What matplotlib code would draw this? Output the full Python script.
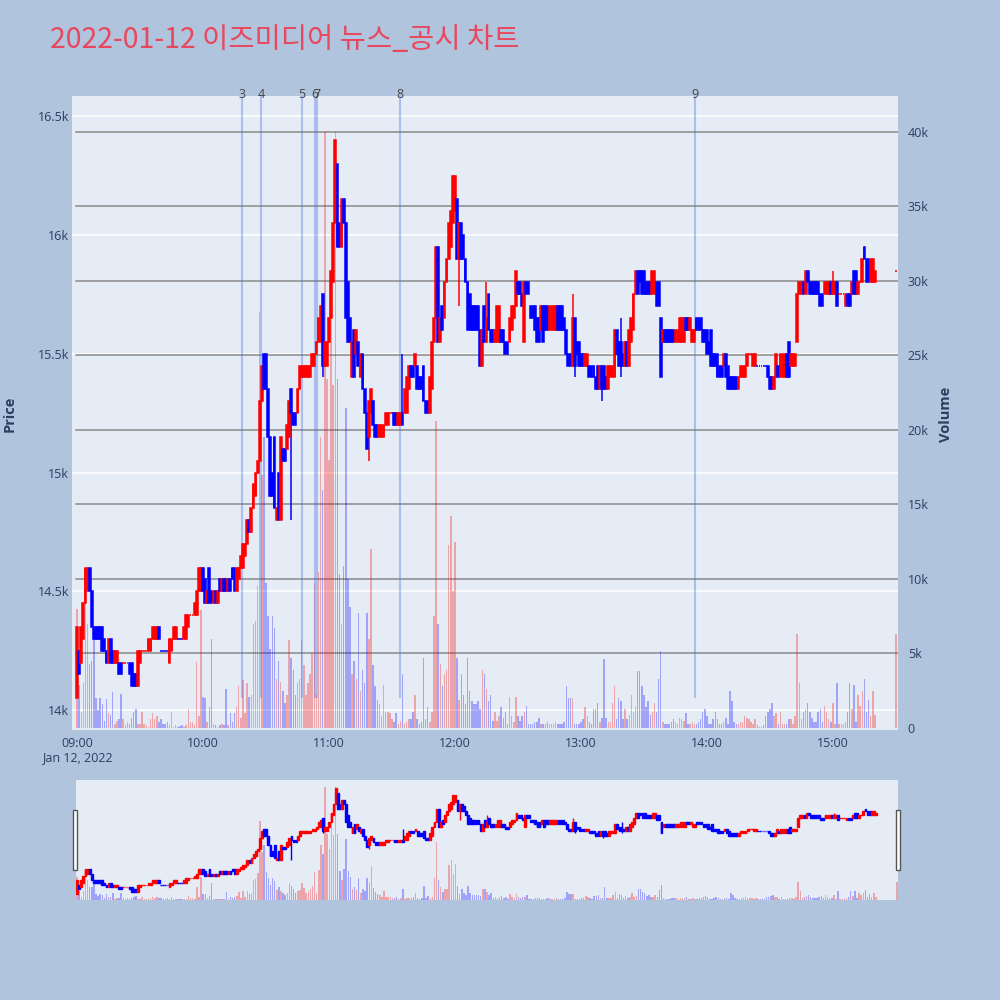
import matplotlib
matplotlib.use('Agg')
import matplotlib.pyplot as plt
from matplotlib.patches import Rectangle

plt.rcParams['font.family'] = ['Open Sans', 'Noto Sans CJK KR', 'DejaVu Sans']

# ---------------- data (1-minute candles, 09:00 = minute 0) ----------------
opens = [
    14050, 14250, 14200, 14300, 14450, 14500, 14600, 14500, 14350, 14350,
    14350, 14350, 14350, 14300, 14250, 14200, 14300, 14250, 14200, 14200,
    14200, 14200, 14200, 14200, 14200, 14200, 14200, 14150, 14150, 14100,
    14200, 14250, 14250, 14250, 14250, 14250, 14300, 14300, 14300, 14350,
    14250, 14250, 14250, 14250, 14200, 14250, 14300, 14300, 14300, 14300,
    14300, 14300, 14300, 14350, 14400, 14400, 14400, 14400, 14500, 14500,
    14600, 14550, 14450, 14600, 14500, 14450, 14500, 14450, 14550, 14500,
    14550, 14550, 14500, 14550, 14600, 14600, 14500, 14550, 14600, 14600,
    14650, 14700, 14800, 14750, 14850, 14900, 15000, 15050, 15300, 15500,
    15500, 15350, 15150, 15000, 15150, 14800, 15000, 14800, 15100, 15100,
    15100, 15150, 15350, 15250, 15250, 15250, 15350, 15400, 15400, 15400,
    15400, 15400, 15450, 15450, 15500, 15550, 15550, 15750, 15450, 15450,
    15550, 15650, 15800, 16050, 16300, 16050, 15950, 16150, 16050, 15800,
    15650, 15400, 15600, 15500, 15550, 15400, 15500, 15350, 15250, 15150,
    15250, 15300, 15200, 15200, 15150, 15150, 15150, 15200, 15200, 15250,
    15250, 15250, 15250, 15200, 15200, 15250, 15250, 15250, 15350, 15450,
    15450, 15450, 15450, 15400, 15400, 15450, 15300, 15300, 15250, 15350,
    15550, 15650, 15950, 15550, 15700, 15650, 15800, 15900, 15950, 16050,
    16100, 16150, 15900, 16050, 16000, 15900, 15800, 15750, 15700, 15700,
    15700, 15700, 15600, 15450, 15700, 15550, 15750, 15600, 15600, 15550,
    15550, 15550, 15600, 15600, 15550, 15550, 15550, 15600, 15650, 15700,
    15800, 15800, 15750, 15550, 15800, 15800, 15700, 15700, 15700, 15650,
    15650, 15600, 15700, 15700, 15700, 15600, 15600, 15600, 15600, 15700,
    15700, 15700, 15650, 15600, 15500, 15500, 15450, 15650, 15550, 15550,
    15500, 15500, 15450, 15450, 15450, 15450, 15450, 15400, 15450, 15350,
    15450, 15450, 15400, 15350, 15400, 15400, 15400, 15600, 15550, 15550,
    15500, 15450, 15550, 15450, 15550, 15600, 15750, 15850, 15850, 15850,
    15850, 15800, 15800, 15800, 15750, 15750, 15800, 15800, 15650, 15550,
    15600, 15600, 15600, 15600, 15600, 15550, 15550, 15550, 15550, 15550,
    15650, 15650, 15600, 15550, 15550, 15650, 15650, 15650, 15600, 15600,
    15600, 15550, 15600, 15500, 15500, 15500, 15450, 15450, 15450, 15500,
    15450, 15400, 15400, 15400, 15400, 15350, 15400, 15400, 15400, 15450,
    15500, 15500, 15450, 15450, 15450, 15450, 15450, 15450, 15450, 15450,
    15400, 15400, 15350, 15400, 15450, 15400, 15400, 15400, 15500, 15550,
    15450, 15450, 15450, 15550, 15750, 15750, 15800, 15750, 15850, 15800,
    15800, 15800, 15800, 15800, 15750, 15750, 15750, 15750, 15750, 15800,
    15750, 15750, 15800, 15750, 15750, 15750, 15700, 15750, 15750, 15750,
    15850, 15850, 15750, 15800, 15800, 15950, 15900, 15900, 15800, 15800,
    15800, 15850,
]
closes = [
    14350, 14150, 14350, 14450, 14600, 14600, 14500, 14350, 14300, 14300,
    14300, 14300, 14250, 14250, 14200, 14300, 14200, 14200, 14250, 14250,
    14150, 14150, 14200, 14200, 14200, 14150, 14100, 14100, 14100, 14250,
    14250, 14250, 14250, 14250, 14300, 14300, 14350, 14350, 14350, 14300,
    14250, 14250, 14250, 14250, 14300, 14300, 14350, 14350, 14300, 14300,
    14300, 14350, 14400, 14400, 14400, 14400, 14450, 14500, 14600, 14600,
    14500, 14450, 14500, 14450, 14450, 14500, 14450, 14500, 14500, 14550,
    14500, 14500, 14550, 14500, 14550, 14500, 14600, 14600, 14650, 14700,
    14700, 14800, 14750, 14850, 14950, 15000, 15050, 15300, 15450, 15350,
    15350, 15150, 14900, 14900, 14850, 14850, 14800, 15150, 15050, 15050,
    15200, 15300, 15250, 15200, 15200, 15350, 15450, 15450, 15450, 15450,
    15450, 15450, 15500, 15500, 15550, 15650, 15700, 15450, 15550, 15550,
    15650, 15850, 16050, 16400, 15950, 15950, 16150, 16050, 15650, 15550,
    15550, 15550, 15400, 15600, 15450, 15500, 15350, 15250, 15100, 15300,
    15350, 15200, 15150, 15150, 15200, 15200, 15200, 15250, 15250, 15250,
    15250, 15200, 15200, 15250, 15250, 15200, 15350, 15400, 15450, 15400,
    15400, 15500, 15350, 15350, 15350, 15300, 15250, 15250, 15400, 15550,
    15650, 15950, 15550, 15650, 15600, 15800, 15900, 16050, 16100, 16250,
    16250, 15900, 16050, 15900, 15900, 15800, 15600, 15600, 15600, 15600,
    15600, 15600, 15450, 15600, 15550, 15650, 15600, 15550, 15550, 15600,
    15700, 15700, 15550, 15550, 15500, 15500, 15650, 15700, 15700, 15850,
    15750, 15750, 15700, 15800, 15750, 15750, 15650, 15650, 15600, 15550,
    15550, 15700, 15550, 15600, 15600, 15700, 15700, 15700, 15700, 15600,
    15600, 15600, 15600, 15500, 15450, 15450, 15650, 15450, 15500, 15450,
    15450, 15450, 15500, 15500, 15400, 15400, 15400, 15350, 15350, 15450,
    15350, 15350, 15350, 15450, 15450, 15450, 15600, 15500, 15450, 15450,
    15450, 15550, 15450, 15600, 15650, 15750, 15850, 15750, 15800, 15750,
    15750, 15750, 15750, 15750, 15850, 15850, 15700, 15700, 15400, 15600,
    15550, 15550, 15550, 15550, 15550, 15600, 15600, 15650, 15650, 15650,
    15600, 15600, 15650, 15600, 15600, 15600, 15600, 15600, 15550, 15550,
    15500, 15500, 15450, 15450, 15450, 15400, 15400, 15400, 15500, 15400,
    15350, 15350, 15350, 15350, 15350, 15400, 15450, 15450, 15450, 15500,
    15500, 15500, 15500, 15500, 15450, 15450, 15450, 15450, 15450, 15400,
    15350, 15350, 15400, 15500, 15400, 15500, 15500, 15500, 15400, 15400,
    15500, 15500, 15500, 15750, 15800, 15800, 15750, 15850, 15800, 15750,
    15750, 15750, 15750, 15750, 15700, 15700, 15800, 15800, 15800, 15750,
    15800, 15800, 15700, 15750, 15750, 15750, 15750, 15700, 15700, 15800,
    15750, 15750, 15800, 15800, 15900, 15900, 15800, 15800, 15900, 15900,
    15850, 15850,
]
volumes = [
    8000, 2900, 1100, 3000, 8500, 7000, 4300, 4500, 6000, 2000,
    1200, 2000, 1600, 500, 1950, 1000, 900, 2400, 300, 500,
    600, 2300, 600, 200, 400, 300, 700, 1100, 1300, 300,
    300, 1100, 300, 200, 100, 600, 1000, 600, 800, 400,
    600, 300, 300, 400, 200, 1100, 100, 200, 100, 150,
    200, 100, 200, 1300, 400, 400, 200, 4400, 800, 7900,
    2100, 2000, 400, 1400, 6000, 300, 200, 100, 200, 300,
    200, 2600, 200, 1000, 400, 1000, 1400, 2800, 700, 3200,
    1000, 3000, 2100, 2200, 7000, 7200, 9500, 27900, 17000, 19500,
    9750, 7500, 5300, 7500, 6700, 3300, 4500, 3100, 2500, 1700,
    2200, 5900, 4700, 3900, 2200, 3000, 3300, 5900, 4200, 2200,
    3000, 3600, 5000, 9700, 2200, 10500, 19500, 16000, 40000, 23400,
    18000, 27900, 23000, 40000, 23400, 10300, 7000, 10900, 21500, 10000,
    8100, 3600, 4500, 3300, 7700, 2500, 3900, 3000, 7700, 6000,
    12000, 4200, 2800, 1900, 1600, 800, 2900, 1100, 1100, 1000,
    600, 400, 1000, 300, 500, 3600, 300, 400, 600, 600,
    1100, 2200, 600, 300, 400, 4700, 600, 1400, 400, 1100,
    7500, 20600, 7000, 4300, 2800, 3600, 3900, 12300, 14200, 9200,
    12500, 4700, 1900, 3600, 2200, 1600, 4700, 2500, 1800, 1600,
    1600, 1800, 1300, 3900, 3600, 2600, 1800, 2200, 500, 1100,
    500, 800, 1400, 700, 1100, 300, 2100, 800, 400, 2100,
    800, 500, 800, 1100, 1500, 300, 300, 300, 400, 400,
    700, 300, 300, 300, 400, 300, 300, 300, 400, 300,
    300, 300, 400, 2800, 2000, 2000, 2000, 300, 300, 300,
    400, 600, 1400, 800, 400, 300, 1250, 1250, 1700, 400,
    700, 4600, 700, 400, 400, 1700, 2800, 600, 2000, 1800,
    600, 1300, 600, 900, 2200, 1100, 1400, 3800, 3800, 2800,
    2200, 1400, 1800, 900, 1100, 1700, 1100, 3300, 5200, 400,
    300, 300, 300, 400, 600, 400, 300, 700, 600, 500,
    1000, 300, 300, 400, 300, 300, 400, 600, 1100, 1300,
    800, 300, 300, 600, 1100, 600, 300, 300, 400, 700,
    300, 2500, 1800, 400, 300, 300, 400, 400, 800, 700,
    600, 400, 300, 600, 200, 100, 100, 200, 800, 1100,
    1250, 1700, 800, 1000, 300, 1100, 300, 300, 300, 600,
    600, 300, 800, 6300, 3000, 600, 1100, 1250, 1700, 1100,
    700, 400, 400, 1100, 1250, 400, 1500, 1100, 600, 400,
    1700, 300, 3000, 300, 300, 300, 400, 1100, 3000, 1250,
    2900, 400, 2200, 1500, 2500, 3300, 1100, 1900, 800, 2500,
    900, 6300,
]
minutes = list(range(381)) + [390]          # 390 = 15:30 closing auction
wick_high = {117: 15750, 155: 15500, 195: 15800, 236: 15750, 259: 15650, 360: 15850}
wick_low = {102: 14800, 117: 15400, 139: 15050, 182: 15700, 237: 15400, 250: 15300, 259: 15400}

news_minutes = [78.6, 87.6, 107.1, 113.3, 114.3, 153.8, 294.3]
news_labels = ['3', '4', '5', '6', '7', '8', '9']

time_ticks = [0, 60, 120, 180, 240, 300, 360]
time_labels = ['09:00', '10:00', '11:00', '12:00', '13:00', '14:00', '15:00']
price_ticks = [14000, 14500, 15000, 15500, 16000, 16500]
price_labels = ['14k', '14.5k', '15k', '15.5k', '16k', '16.5k']
vol_ticks = [0, 5000, 10000, 15000, 20000, 25000, 30000, 35000, 40000]
vol_labels = ['0', '5k', '10k', '15k', '20k', '25k', '30k', '35k', '40k']
title = '2022-01-12 이즈미디어 뉴스_공시 차트'

# ---------------- styling ----------------
BG = '#B0C4DE'
PLOT_BG = '#E5ECF6'
UP = '#FF0000'
DOWN = '#0000FF'
TXT = '#2a3f5f'
P_RANGE = (13916, 16585)
V_RANGE = (-134, 42407)
NEWS_LINE_FLOOR = 14050

highs = [max(o, c, wick_high.get(m, 0)) for m, o, c in zip(minutes, opens, closes)]
lows = [min(o, c, wick_low.get(m, 10**9)) for m, o, c in zip(minutes, opens, closes)]

dirs = []
prev = 1
for i, (o, c) in enumerate(zip(opens, closes)):
    if c > o:
        d = 1
    elif c < o:
        d = -1
    else:
        pc = closes[i - 1] if i > 0 else c
        d = 1 if c > pc else (-1 if c < pc else prev)
    dirs.append(d)
    prev = d
cols = [UP if d > 0 else DOWN for d in dirs]
vcols = [(1, 0, 0, 0.3) if d > 0 else (0, 0, 1, 0.3) for d in dirs]


def draw_candles(ax, body_w, lw):
    ax.vlines(minutes, lows, highs, colors=cols, linewidth=lw, zorder=3)
    bottoms = [min(o, c) for o, c in zip(opens, closes)]
    heights = [abs(c - o) for o, c in zip(opens, closes)]
    ax.bar(minutes, heights, bottom=bottoms, width=body_w, color=cols,
           edgecolor=cols, linewidth=lw, zorder=4)


def p2v(p):
    return V_RANGE[0] + (p - P_RANGE[0]) / (P_RANGE[1] - P_RANGE[0]) * (V_RANGE[1] - V_RANGE[0])


fig = plt.figure(figsize=(10, 10), dpi=100)
fig.patch.set_facecolor(BG)

# ---------------- main chart ----------------
ax_v = fig.add_axes([0.072, 0.270, 0.826, 0.634])
ax_v.set_facecolor(PLOT_BG)
ax_p = ax_v.twinx()

for p in price_ticks:
    ax_v.axhline(p2v(p), color='white', lw=1.2, zorder=0)
for v in vol_ticks[1:]:
    ax_v.axhline(v, xmin=0.005, color='#8a8a8a', lw=1.1, zorder=0.5)
ax_v.bar(minutes, volumes, width=0.7, color=vcols, linewidth=0, zorder=1)

ax_p.vlines(news_minutes, NEWS_LINE_FLOOR, P_RANGE[1], colors=(65/255, 105/255, 225/255, 0.35),
            linewidth=1.5, zorder=2)
for m, lab in zip(news_minutes, news_labels):
    ax_p.text(m, P_RANGE[1] + 5, lab, ha='center', va='center', fontsize=9,
              color='#444444', clip_on=False)
draw_candles(ax_p, 0.85, 1.1)

ax_v.set_xlim(-2.4, 391)
ax_v.set_ylim(*V_RANGE)
ax_p.set_ylim(*P_RANGE)

ax_v.yaxis.tick_right()
ax_v.set_yticks(vol_ticks, vol_labels)
ax_v.tick_params(axis='y', length=0, pad=7, labelsize=9, labelcolor=TXT)
ax_p.yaxis.tick_left()
ax_p.set_yticks(price_ticks, price_labels)
ax_p.tick_params(axis='y', length=0, pad=2, labelsize=9, labelcolor=TXT)
ax_v.set_xticks(time_ticks, time_labels)
ax_v.tick_params(axis='x', length=0, pad=5, labelsize=9, labelcolor=TXT)
for a in (ax_v, ax_p):
    for s in a.spines.values():
        s.set_visible(False)

fig.text(0.077, 1 - 0.758, 'Jan 12, 2022', ha='center', va='center', fontsize=9, color=TXT)
fig.text(0.010, 1 - 0.414, 'Price', rotation=90, ha='center', va='center',
         fontsize=10.5, fontweight='bold', color=TXT)
fig.text(0.946, 1 - 0.414, 'Volume', rotation=90, ha='center', va='center',
         fontsize=10.5, fontweight='bold', color=TXT)
fig.text(0.050, 1 - 0.040, title, ha='left', va='center', fontsize=20.5,
         color='#E9475E', family=['Noto Sans CJK KR', 'DejaVu Sans'])

# ---------------- range slider ----------------
ax_sv = fig.add_axes([0.076, 0.100, 0.822, 0.120])
ax_sv.set_facecolor(PLOT_BG)
ax_sp = ax_sv.twinx()
ax_sv.bar(minutes, volumes, width=0.7, color=vcols, linewidth=0, zorder=1)
draw_candles(ax_sp, 0.85, 1.0)
ax_sv.set_xlim(-0.5, 390.5)
ax_sv.set_ylim(*V_RANGE)
ax_sp.set_ylim(*P_RANGE)
for a in (ax_sv, ax_sp):
    a.set_xticks([])
    a.set_yticks([])
    for s in a.spines.values():
        s.set_visible(False)

for x0 in (0.073, 0.896):
    fig.patches.append(Rectangle((x0, 1 - 0.870), 0.004, 0.060, transform=fig.transFigure,
                                 facecolor='white', edgecolor='#555555', lw=1, zorder=10))

fig.savefig('out.png', dpi=100, facecolor=BG)
